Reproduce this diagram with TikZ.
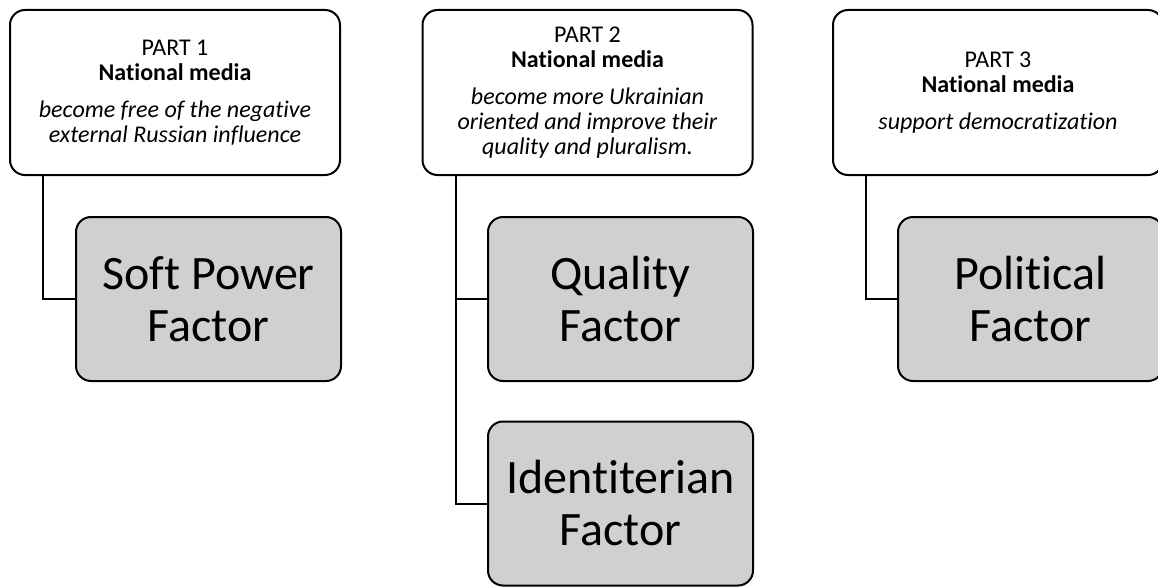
\documentclass[tikz,border=0pt]{standalone}
\usepackage{fontspec}
\setmainfont{Carlito}[Ligatures=NoCommon]
\definecolor{factorgray}{RGB}{208,208,208}
\begin{document}
\begin{tikzpicture}[x=1pt,y=-1pt,
  partbox/.style={draw=black, line width=2pt, rounded corners=15pt, fill=white,
    minimum width=330pt, minimum height=165pt, inner sep=0pt, align=center,
    font=\fontsize{24}{25}\selectfont},
  factorbox/.style={draw=black, line width=2pt, rounded corners=15pt, fill=factorgray,
    minimum width=265pt, minimum height=164pt, inner sep=0pt, align=center,
    font=\fontsize{48}{52}\selectfont},
  link/.style={draw=black, line width=2pt}]
  \useasboundingbox (0,0) rectangle (1158,586);

  % part headers
  \node[partbox] (p1) at (175,92.5)
    {PART 1\\\textbf{National media}\\[12pt]\textit{become free of the negative}\\\textit{external Russian influence}};
  \node[partbox] (p2) at (587.5,92.5)
    {PART 2\\\textbf{National media}\\[12pt]\textit{become more Ukrainian}\\\textit{oriented and improve their}\\\textit{quality and pluralism.}};
  \node[partbox] (p3) at (998,92.5)
    {PART 3\\\textbf{National media}\\[12pt]\textit{support democratization}};

  % factors
  \node[factorbox] (f1) at (208.5,299) {Soft Power\\Factor};
  \node[factorbox] (f2a) at (620.5,299) {Quality\\Factor};
  \node[factorbox] (f2b) at (620.5,503.5) {Identiterian\\Factor};
  \node[factorbox] (f3) at (1030.5,299) {Political\\Factor};

  % connectors
  \draw[link] ([xshift=34pt]p1.south west) |- (f1.west);
  \draw[link] ([xshift=34pt]p2.south west) |- (f2a.west);
  \draw[link] ([xshift=34pt]p2.south west) |- (f2b.west);
  \draw[link] ([xshift=34pt]p3.south west) |- (f3.west);
\end{tikzpicture}
\end{document}
